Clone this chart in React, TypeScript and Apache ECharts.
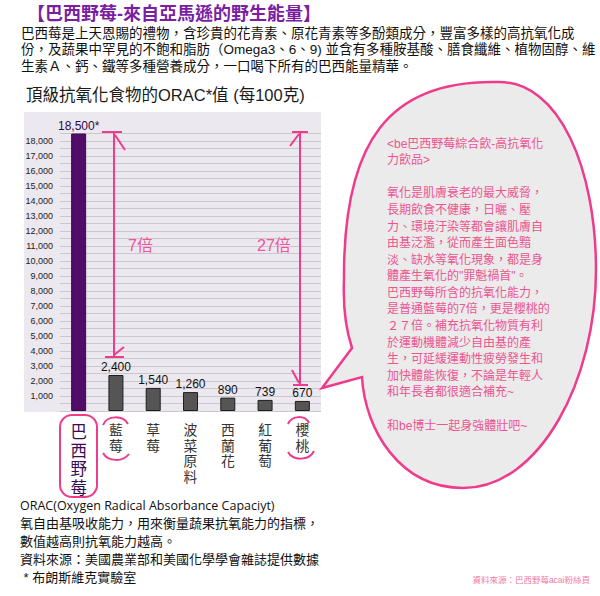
import React, { useEffect, useRef } from "react";
import * as echarts from "echarts";

const categories = ["巴西野莓", "藍莓", "草莓", "波菜原料", "西蘭花", "紅葡萄", "櫻桃"];
const values = [18500, 2400, 1540, 1260, 890, 739, 670];
const labelSuffix = ["*", "", "", "", "", "", ""];

const headTitle = "【巴西野莓-來自亞馬遜的野生能量】";
const introLines = [
  "巴西莓是上天恩賜的禮物，含珍貴的花青素、原花青素等多酚類成分，豐富多樣的高抗氧化成",
  "份，及蔬果中罕見的不飽和脂肪（Omega3、6、9) 並含有多種胺基酸、膳食纖維、植物固醇、維",
  "生素Ａ、鈣、鐵等多種營養成分，一口喝下所有的巴西能量精華。",
];
const chartTitle = "頂級抗氧化食物的ORAC*值 (每100克)";
const bubbleLines = [
  "<be巴西野莓綜合飲-高抗氧化",
  "力飲品>",
  "",
  "氧化是肌膚衰老的最大威脅，",
  "長期飲食不健康，日曬、壓",
  "力、環境汙染等都會讓肌膚自",
  "由基泛濫，從而產生面色黯",
  "淡、缺水等氧化現象，都是身",
  "體產生氧化的\"罪魁禍首\"。",
  "巴西野莓所含的抗氧化能力，",
  "是普通藍莓的7倍，更是櫻桃的",
  "２７倍。補充抗氧化物質有利",
  "於運動機體減少自由基的產",
  "生，可延緩運動性疲勞發生和",
  "加快體能恢復，不論是年輕人",
  "和年長者都很適合補充~",
  "",
  "和be博士一起身強體壯吧~",
];
const footLines = [
  "氧自由基吸收能力，用來衡量蔬果抗氧能力的指標，",
  "數值越高則抗氧能力越高。",
  "資料來源：美國農業部和美國化學學會雜誌提供數據",
  " * 布朗斯維克實驗室",
];
const footEn = "ORAC(Oxygen Radical Absorbance Capaciyt)";
const credit = "資料來源：巴西野莓acai粉絲頁";
const times7 = "7倍";
const times27 = "27倍";

const CJK = '"Liberation Sans", "Noto Sans CJK TC", sans-serif';
const PINK = "#ef3b8c";

const BUBBLE_D =
  "M497 82 C560 80 596 170 596 270 C596 380 540 488 463 488 C400 488 365 430 362 377 L322 388 L352 348 C346 330 343 305 344 280 C343 140 390 80 497 82 Z";
echarts.graphic.registerShape("speechBubble", echarts.graphic.extendPath(BUBBLE_D, {}) as any);

const fmt = (v: number) => v.toLocaleString("en-US");

function txt(text: string, x: number, y: number, s: any, extra: any = {}) {
  return {
    type: "text",
    x,
    y,
    silent: true,
    ...extra,
    style: {
      text,
      fontFamily: CJK,
      align: "left",
      verticalAlign: "middle",
      textAlign: "left",
      textVerticalAlign: "middle",
      ...s,
    },
  };
}

export default function App() {
  const ref = useRef<HTMLDivElement>(null);
  useEffect(() => {
    if (!ref.current) return;
    const chart = echarts.init(ref.current, null, { renderer: "svg" });
    const pinkLine = { stroke: PINK, lineWidth: 2, fill: null };
    const elements: any[] = [
      // plot background
      { type: "rect", z: -10, silent: true, shape: { x: 24, y: 112, width: 297, height: 300 }, style: { fill: "#ece8ef" } },
      txt(headTitle, 27, 14, { fontSize: 18, fontWeight: "bold", fill: "#7a1fa3" }),
      txt(introLines.join("\n"), 21, 49.5, { fontSize: 13.5, lineHeight: 16.5, fill: "#111" }),
      txt(chartTitle, 26, 95, { fontSize: 16.5, fill: "#1a1a1a" }),
      txt(footEn, 20, 505, { fontSize: 12.5, fill: "#111", fontFamily: '"Open Sans", sans-serif' }),
      txt(footLines.join("\n"), 20, 550, { fontSize: 13, lineHeight: 18, fill: "#111" }),
      txt(credit, 590, 580, { fontSize: 8.5, fill: "#f07aa8", align: "right", textAlign: "right" }),
      // bubble
      {
        type: "speechBubble",
        silent: true,
        z: 5,
        x: 0,
        y: 0,
        style: { fill: "#ebebeb", stroke: PINK, lineWidth: 2.5 },
      },
      txt(bubbleLines.join("\n"), 387, 284.6, { fontSize: 12, lineHeight: 16.6, fill: "#ec5590" }, { z: 7 }),
      // 7x arrow
      { type: "line", z: 8, silent: true, shape: { x1: 114, y1: 132, x2: 114, y2: 357 }, style: pinkLine },
      { type: "line", z: 8, silent: true, shape: { x1: 102, y1: 132, x2: 122, y2: 132 }, style: pinkLine },
      { type: "line", z: 8, silent: true, shape: { x1: 115, y1: 135, x2: 125, y2: 150 }, style: pinkLine },
      { type: "line", z: 8, silent: true, shape: { x1: 105, y1: 357, x2: 124, y2: 357 }, style: pinkLine },
      { type: "line", z: 8, silent: true, shape: { x1: 114, y1: 355, x2: 124, y2: 347 }, style: pinkLine },
      txt(times7, 128, 245, { fontSize: 16, fill: "#f0559a" }, { z: 8 }),
      // 27x arrow
      { type: "line", z: 8, silent: true, shape: { x1: 300, y1: 132, x2: 300, y2: 385 }, style: pinkLine },
      { type: "line", z: 8, silent: true, shape: { x1: 292, y1: 132, x2: 308, y2: 132 }, style: pinkLine },
      { type: "line", z: 8, silent: true, shape: { x1: 299, y1: 134, x2: 290, y2: 146 }, style: pinkLine },
      { type: "line", z: 8, silent: true, shape: { x1: 293, y1: 385, x2: 308, y2: 385 }, style: pinkLine },
      { type: "line", z: 8, silent: true, shape: { x1: 299, y1: 383, x2: 292, y2: 370 }, style: pinkLine },
      txt(times27, 257, 245, { fontSize: 16, fill: "#f0559a" }, { z: 8 }),
      // circles around labels
      { type: "rect", z: 8, silent: true, shape: { x: 60, y: 415, width: 37, height: 82, r: 12 }, style: pinkLine },
      { type: "bezierCurve", z: 8, silent: true, shape: { x1: 103, y1: 425, cpx1: 107, cpy1: 415, cpx2: 123, cpy2: 415, x2: 128, y2: 424 }, style: pinkLine },
      { type: "bezierCurve", z: 8, silent: true, shape: { x1: 103, y1: 453, cpx1: 108, cpy1: 462, cpx2: 123, cpy2: 462, x2: 129, y2: 454 }, style: pinkLine },
      { type: "bezierCurve", z: 8, silent: true, shape: { x1: 288, y1: 424, cpx1: 292, cpy1: 415, cpx2: 305, cpy2: 415, x2: 309, y2: 423 }, style: pinkLine },
      { type: "bezierCurve", z: 8, silent: true, shape: { x1: 288, y1: 452, cpx1: 293, cpy1: 461, cpx2: 309, cpy2: 461, x2: 314, y2: 451 }, style: pinkLine },
    ];

    const labelFont = '"Liberation Sans", "Noto Sans CJK TC", sans-serif';
    chart.setOption({
      animation: false,
      grid: { left: 60, right: 279, top: 133.5, bottom: 185, containLabel: false },
      xAxis: {
        type: "category",
        data: categories,
        axisLine: { show: false },
        axisTick: { show: false },
        axisLabel: {
          margin: 12,
          interval: 0,
          fontFamily: labelFont,
          formatter: (v: string, i: number) =>
            v
              .split("")
              .map((c) => (i === 0 ? `{a|${c}}` : `{b|${c}}`))
              .join("\n"),
          rich: {
            a: { fontSize: 16.5, lineHeight: 18.5, color: "#3b0a55", fontFamily: labelFont },
            b: { fontSize: 13.8, lineHeight: 15.5, color: "#333", fontFamily: labelFont },
          },
        },
      },
      yAxis: {
        type: "value",
        min: 0,
        max: 18500,
        interval: 500,
        axisLine: { show: false },
        axisTick: { show: false },
        axisLabel: {
          margin: 7,
          fontSize: 9,
          color: "#222",
          fontFamily: '"Liberation Sans", Arial, sans-serif',
          formatter: (v: number) => (v > 0 && v % 1000 === 0 ? fmt(v) : ""),
        },
        splitLine: { lineStyle: { color: "#ccc7cd", width: 1 } },
      },
      series: [
        {
          type: "bar",
          barWidth: 15,
          data: values.map((v, i) => ({
            value: v,
            itemStyle:
              i === 0
                ? { color: "#500c68", borderColor: "#3d0850", borderWidth: 1 }
                : { color: "#555555", borderColor: "#1e1e1e", borderWidth: 1 },
            label: i === 0 ? { color: "#2f0a45" } : { color: "#111" },
          })),
          label: {
            show: true,
            position: "top",
            distance: 2,
            fontSize: 12,
            fontFamily: '"Liberation Sans", Arial, sans-serif',
            formatter: (p: any) => fmt(p.value) + labelSuffix[p.dataIndex],
          },
        },
      ],
      graphic: { elements },
    });
    return () => chart.dispose();
  }, []);
  return (
    <div
      ref={ref}
      style={{ position: "fixed", left: 0, top: 0, width: 600, height: 596, background: "#fff" }}
    />
  );
}
